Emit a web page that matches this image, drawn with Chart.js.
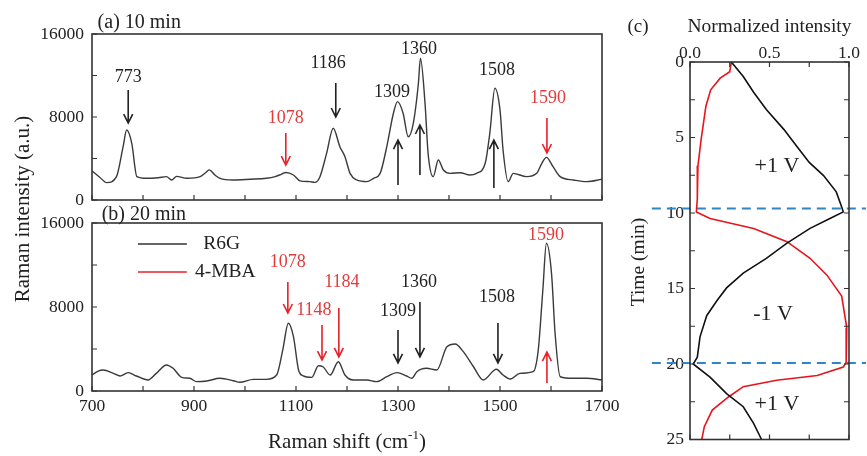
<!DOCTYPE html>
<html>
<head>
<meta charset="utf-8">
<script src="https://cdn.jsdelivr.net/npm/chart.js@4.4.1/dist/chart.umd.min.js"></script>
<style>
    body { margin: 0; background: #fff; }
    #wrap { position: relative; width: 867px; height: 456px; }
    #wrap canvas { position: absolute; left: 0; top: 0; }
</style>
</head>
<body>
<div id="wrap">
    <canvas id="chart-a" width="867" height="456"></canvas>
    <canvas id="chart-b" width="867" height="456"></canvas>
    <canvas id="chart-c" width="867" height="456"></canvas>
</div>
<script>
/* (a) 10 min spectrum */
let shiftA = [700, 715, 729, 748, 761, 768, 778, 788, 807, 830, 846, 856, 866, 886, 912, 922, 930, 941, 951, 977,
    1010, 1042, 1059, 1072, 1080, 1095, 1108, 1127, 1137, 1147, 1160, 1173, 1186, 1196, 1206, 1219, 1239, 1252, 1265, 1278,
    1291, 1299, 1310, 1320, 1330, 1340, 1344, 1353, 1359, 1369, 1379, 1389, 1402, 1422, 1441, 1454, 1471, 1480, 1490, 1500,
    1506, 1516, 1526, 1552, 1572, 1582, 1591, 1604, 1618, 1644, 1670, 1700]
let intensityA = [2800, 2200, 1670, 2250, 5140, 6750, 5460, 2250, 2090, 2150, 2250, 1930, 2280, 2090, 2250, 2600, 2900, 2410, 2090, 1930,
    2000, 2090, 2250, 2500, 2650, 2410, 1850, 1770, 1700, 2250, 4500, 6910, 5140, 4170, 2570, 1930, 1770, 2090, 2570, 5140,
    8360, 9480, 8360, 6100, 7390, 11250, 13660, 9320, 4500, 2250, 3860, 2890, 2570, 2630, 2410, 2570, 3540, 6430, 10770, 8680,
    4820, 1770, 2570, 2250, 2570, 3540, 4110, 3210, 2250, 1930, 1770, 2000]

/* (b) 20 min spectrum */
let shiftB = [700, 712, 722, 742, 755, 771, 787, 810, 826, 846, 859, 876, 892, 905, 925, 951, 977, 990, 1016, 1042,
    1062, 1074, 1085, 1095, 1105, 1114, 1131, 1144, 1153, 1167, 1183, 1196, 1212, 1239, 1258, 1278, 1298, 1317, 1327, 1337,
    1356, 1376, 1396, 1412, 1428, 1448, 1467, 1493, 1506, 1520, 1539, 1565, 1575, 1584, 1591, 1601, 1608, 1618, 1644, 1670, 1700]
let intensityB = [1520, 1900, 2000, 1680, 1430, 1750, 1430, 1050, 1680, 2480, 2160, 1300, 1210, 890, 950, 1210, 980, 830, 1110, 1110,
    1520, 3900, 6450, 5170, 2000, 1450, 1300, 2400, 2310, 1520, 2790, 1520, 1050, 1050, 890, 1360, 1750, 1430, 1210, 1840,
    2160, 2000, 4220, 4480, 3750, 2310, 1050, 2070, 1520, 1140, 1680, 1840, 3900, 9620, 14070, 11210, 5500, 1360, 1210, 1210, 1050]

/* (c) normalized intensity vs time */
let timeR6G = [0, 0.96, 2.0, 3.15, 4.46, 5.56, 6.65, 7.52, 8.6, 9.6, 9.93, 10.37, 11.02, 12.0, 13.0, 13.98, 14.96, 15.8, 16.8, 18.2,
    19.55, 20.0, 20.87, 21.96, 22.83, 23.93, 25.0]
let normR6G = [0.26, 0.335, 0.40, 0.48, 0.59, 0.67, 0.75, 0.84, 0.92, 0.954, 0.964, 0.88, 0.755, 0.61, 0.48, 0.335, 0.23, 0.17, 0.105, 0.063,
    0.046, 0.02, 0.126, 0.23, 0.335, 0.40, 0.45]
let timeMBA = [0, 0.64, 1.07, 1.84, 2.93, 5.12, 6.87, 9.06, 9.93, 10.37, 11.02, 11.9, 13.0, 14.1, 15.5, 17.6, 19.9, 20.2, 20.76, 21.08,
    21.5, 22.2, 23.05, 24.15, 25.0]
let normMBA = [0.26, 0.25, 0.19, 0.13, 0.10, 0.07, 0.05, 0.046, 0.04, 0.126, 0.40, 0.61, 0.755, 0.86, 0.954, 0.986, 0.982, 0.964, 0.80, 0.545,
    0.335, 0.24, 0.14, 0.09, 0.074]
let switchTimes = [9.7, 19.93]

/* tick labels */
let shiftTickLabels = [700, 900, 1100, 1300, 1500, 1700]
let intensityTickLabels = [0, 8000, 16000]
let timeTickLabels = [0, 5, 10, 15, 20, 25]
let normTickLabels = [0, 0.5, 1]

let serif = '"Liberation Serif", "Times New Roman", serif'
let red = '#e8202a'
let ink = '#222'

function toPoints(xs, ys) {
    return xs.map(function(x, i) { return { x: x, y: ys[i] } })
}

function drawText(ctx, text, x, y, color, size, align) {
    ctx.fillStyle = color
    ctx.font = size + 'px ' + serif
    ctx.textAlign = align || 'center'
    ctx.textBaseline = 'middle'
    ctx.fillText(text, x, y)
}

function drawArrow(ctx, x, y1, y2, color) {
    let dir = y2 > y1 ? 1 : -1
    ctx.strokeStyle = color
    ctx.lineWidth = 1.6
    ctx.beginPath()
    ctx.moveTo(x, y1)
    ctx.lineTo(x, y2)
    ctx.moveTo(x - 4.5, y2 - dir * 9)
    ctx.lineTo(x, y2)
    ctx.lineTo(x + 4.5, y2 - dir * 9)
    ctx.stroke()
}

// box round the plot area plus short ticks pointing inwards
let frame = {
    id: 'frame',
    afterDraw(chart, args, opts) {
        let ctx = chart.ctx
        let area = chart.chartArea
        let xs = chart.scales.x
        let ys = chart.scales.y
        let len = 5
        ctx.save()
        ctx.strokeStyle = '#333'
        ctx.lineWidth = 1.2
        ctx.beginPath()
        xs.ticks.forEach(function(t) {
            let px = xs.getPixelForValue(t.value)
            if (opts.bottom) { ctx.moveTo(px, area.bottom); ctx.lineTo(px, area.bottom - len) }
            if (opts.top) { ctx.moveTo(px, area.top); ctx.lineTo(px, area.top + len) }
        })
        ys.ticks.forEach(function(t) {
            let py = ys.getPixelForValue(t.value)
            if (opts.left) { ctx.moveTo(area.left, py); ctx.lineTo(area.left + len, py) }
            if (opts.right) { ctx.moveTo(area.right, py); ctx.lineTo(area.right - len, py) }
        })
        ctx.stroke()
        ctx.lineWidth = 1.6
        ctx.strokeRect(area.left, area.top, area.right - area.left, area.bottom - area.top)
        ctx.restore()
    }
}

// peak arrows, labels and the little legend, all placed in data units
let notes = {
    id: 'notes',
    afterDraw(chart, args, opts) {
        let ctx = chart.ctx
        let xs = chart.scales.x
        let ys = chart.scales.y
        ctx.save()
        opts.arrows.forEach(function(a) {
            let px = xs.getPixelForValue(a.x)
            drawArrow(ctx, px, ys.getPixelForValue(a.from), ys.getPixelForValue(a.to), a.color)
            drawText(ctx, a.text, xs.getPixelForValue(a.tx), ys.getPixelForValue(a.ty), a.color == red ? '#e23b3b' : ink, 18)
        })
        opts.texts.forEach(function(t) {
            drawText(ctx, t.text, xs.getPixelForValue(t.x), ys.getPixelForValue(t.y), ink, t.size, t.align)
        })
        opts.keys.forEach(function(k) {
            let py = ys.getPixelForValue(k.y)
            ctx.strokeStyle = k.color
            ctx.lineWidth = 1.6
            ctx.beginPath()
            ctx.moveTo(xs.getPixelForValue(k.x1), py)
            ctx.lineTo(xs.getPixelForValue(k.x2), py)
            ctx.stroke()
            drawText(ctx, k.text, xs.getPixelForValue(k.tx), py, ink, 19.5, 'left')
        })
        ctx.restore()
    }
}

// axis titles shared by the two spectra
let spectrumTitles = {
    id: 'spectrumTitles',
    afterDraw(chart) {
        let ctx = chart.ctx
        let area = chart.chartArea
        ctx.save()
        // x title with superscript
        ctx.font = '21px ' + serif
        let main = 'Raman shift (cm'
        let w1 = ctx.measureText(main).width
        ctx.font = '13px ' + serif
        let w2 = ctx.measureText('-1').width
        ctx.font = '21px ' + serif
        let w3 = ctx.measureText(')').width
        let x0 = (area.left + area.right) / 2 - (w1 + w2 + w3) / 2
        let base = area.bottom + 57
        ctx.fillStyle = ink
        ctx.textAlign = 'left'
        ctx.textBaseline = 'alphabetic'
        ctx.fillText(main, x0, base)
        ctx.font = '13px ' + serif
        ctx.fillText('-1', x0 + w1, base - 9)
        ctx.font = '21px ' + serif
        ctx.fillText(')', x0 + w1 + w2, base)
        // y title spans both panels
        ctx.translate(area.left - 69, 209)
        ctx.rotate(-Math.PI / 2)
        drawText(ctx, 'Raman intensity (a.u.)', 0, 0, ink, 21)
        ctx.restore()
    }
}

function spectrumChart(canvasId, shifts, intensities, area, showShiftLabels, arrows, texts, keys, extraPlugins) {
    let tickFont = { family: serif, size: 17.5 }
    return new Chart(document.querySelector(canvasId), {
        type: 'line',
        data: {
            datasets: [{
                data: toPoints(shifts, intensities),
                borderColor: '#3a3a3a',
                borderWidth: 1.4,
                pointRadius: 0,
                cubicInterpolationMode: 'monotone'
            }]
        },
        options: {
            responsive: false,
            animation: false,
            events: [],
            layout: { padding: { left: 0, top: area.top, right: 867 - area.right, bottom: 0 } },
            plugins: {
                legend: { display: false },
                tooltip: { enabled: false },
                frame: { bottom: true, left: true },
                notes: { arrows: arrows, texts: texts, keys: keys }
            },
            scales: {
                x: {
                    type: 'linear',
                    min: 700,
                    max: 1700,
                    grid: { display: false, drawTicks: false },
                    border: { display: false },
                    ticks: {
                        display: showShiftLabels,
                        stepSize: 100,
                        autoSkip: false,
                        maxRotation: 0,
                        padding: 5,
                        color: ink,
                        font: tickFont,
                        callback: function(v) { return shiftTickLabels.includes(v) ? v : '' }
                    },
                    afterFit: function(scale) { scale.height = 456 - area.bottom }
                },
                y: {
                    min: 0,
                    max: 16000,
                    grid: { display: false, drawTicks: false },
                    border: { display: false },
                    ticks: {
                        stepSize: 4000,
                        autoSkip: false,
                        padding: 8,
                        color: ink,
                        font: tickFont,
                        callback: function(v) { return intensityTickLabels.includes(v) ? v : '' }
                    },
                    afterFit: function(scale) { scale.width = area.left }
                }
            }
        },
        plugins: [frame, notes].concat(extraPlugins)
    })
}

/* panel (a) */
spectrumChart('#chart-a', shiftA, intensityA, { left: 92, right: 602, top: 34, bottom: 200 }, false, [
    { x: 771, from: 10600, to: 7420, color: ink, text: '773', tx: 771, ty: 11860 },
    { x: 1080, from: 6460, to: 3370, color: red, text: '1078', tx: 1080, ty: 7900 },
    { x: 1178, from: 11280, to: 8000, color: ink, text: '1186', tx: 1163, ty: 13200 },
    { x: 1300, from: 1450, to: 5780, color: ink, text: '1309', tx: 1288, ty: 10410 },
    { x: 1343, from: 2410, to: 7230, color: ink, text: '1360', tx: 1341, ty: 14560 },
    { x: 1488, from: 1160, to: 5780, color: ink, text: '1508', tx: 1494, ty: 12530 },
    { x: 1592, from: 7900, to: 4530, color: red, text: '1590', tx: 1594, ty: 9830 }
], [
    { text: '(a) 10 min', x: 711, y: 17060, size: 20, align: 'left' }
], [], [])

/* panel (b) */
spectrumChart('#chart-b', shiftB, intensityB, { left: 92, right: 602, top: 223, bottom: 391 }, true, [
    { x: 1084, from: 10380, to: 7430, color: red, text: '1078', tx: 1084, ty: 12290 },
    { x: 1151, from: 6290, to: 2950, color: red, text: '1148', tx: 1135, ty: 7710 },
    { x: 1184, from: 7900, to: 3240, color: red, text: '1184', tx: 1190, ty: 10380 },
    { x: 1300, from: 5810, to: 2670, color: ink, text: '1309', tx: 1300, ty: 7620 },
    { x: 1343, from: 8480, to: 3240, color: ink, text: '1360', tx: 1341, ty: 10380 },
    { x: 1496, from: 6480, to: 2670, color: ink, text: '1508', tx: 1494, ty: 8950 },
    { x: 1592, from: 760, to: 3710, color: red, text: '1590', tx: 1590, ty: 14860 }
], [
    { text: '(b) 20 min', x: 719, y: 16760, size: 20, align: 'left' }
], [
    { x1: 790, x2: 886, y: 14000, color: '#333', text: 'R6G', tx: 918 },
    { x1: 790, x2: 886, y: 11330, color: red, text: '4-MBA', tx: 902 }
], [spectrumTitles])

/* panel (c) */
let cTitles = {
    id: 'cTitles',
    afterDraw(chart) {
        let ctx = chart.ctx
        let area = chart.chartArea
        let xs = chart.scales.x
        let ys = chart.scales.y
        ctx.save()
        drawText(ctx, '(c)', area.left - 52, 27, ink, 19)
        drawText(ctx, 'Normalized intensity', (area.left + area.right) / 2, 27, ink, 19.5)
        drawText(ctx, '+1 V', xs.getPixelForValue(0.547), ys.getPixelForValue(6.89), ink, 22)
        drawText(ctx, '-1 V', xs.getPixelForValue(0.522), ys.getPixelForValue(16.73), ink, 22)
        drawText(ctx, '+1 V', xs.getPixelForValue(0.547), ys.getPixelForValue(22.64), ink, 22)
        ctx.translate(area.left - 51, 262)
        ctx.rotate(-Math.PI / 2)
        drawText(ctx, 'Time (min)', 0, 0, ink, 19.5)
        ctx.restore()
    }
}

let switchLines = switchTimes.map(function(t) {
    return {
        data: [{ x: -0.24, y: t }, { x: 1.107, y: t }],
        borderColor: '#2f86c3',
        borderWidth: 2,
        borderDash: [9, 6],
        pointRadius: 0,
        clip: false
    }
})

new Chart(document.querySelector('#chart-c'), {
    type: 'line',
    data: {
        datasets: [
            { data: toPoints(normR6G, timeR6G), borderColor: '#111', borderWidth: 1.6, pointRadius: 0 },
            { data: toPoints(normMBA, timeMBA), borderColor: '#e8141c', borderWidth: 1.6, pointRadius: 0 }
        ].concat(switchLines)
    },
    options: {
        responsive: false,
        animation: false,
        events: [],
        layout: { padding: { left: 0, top: 0, right: 867 - 849, bottom: 456 - 443 } },
        plugins: {
            legend: { display: false },
            tooltip: { enabled: false },
            frame: { top: true, bottom: true, left: true, right: true }
        },
        scales: {
            x: {
                type: 'linear',
                position: 'top',
                min: 0,
                max: 1,
                grid: { display: false, drawTicks: false },
                border: { display: false },
                ticks: {
                    stepSize: 0.25,
                    autoSkip: false,
                    maxRotation: 0,
                    padding: -2,
                    color: ink,
                    font: { family: serif, size: 17.5 },
                    callback: function(v) { return normTickLabels.includes(v) ? v.toFixed(1) : '' }
                },
                afterFit: function(scale) { scale.height = 62 }
            },
            y: {
                type: 'linear',
                reverse: true,
                min: 0,
                max: 25,
                grid: { display: false, drawTicks: false },
                border: { display: false },
                ticks: {
                    stepSize: 2.5,
                    autoSkip: false,
                    padding: 6,
                    color: ink,
                    font: { family: serif, size: 17.5 },
                    callback: function(v) { return timeTickLabels.includes(v) ? v : '' }
                },
                afterFit: function(scale) { scale.width = 690 }
            }
        }
    },
    plugins: [frame, cTitles]
})
</script>
</body>
</html>
